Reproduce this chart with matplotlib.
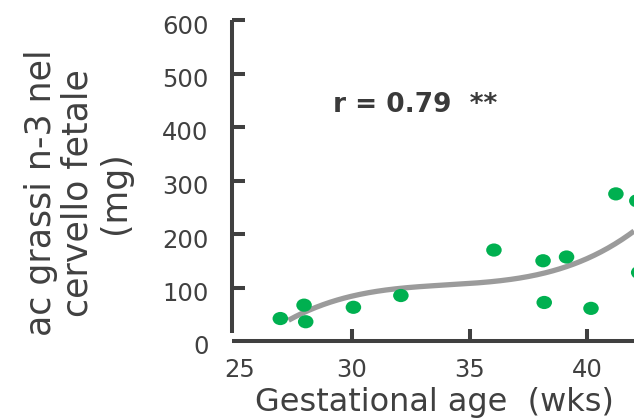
import matplotlib
matplotlib.use("Agg")
import matplotlib.pyplot as plt
import matplotlib.transforms as mtransforms
from matplotlib.path import Path
import numpy as np

# ---- data ----
age_wks = [26.95, 27.96, 28.03, 30.06, 32.08, 36.04, 38.13, 38.18, 39.13, 40.17, 41.23, 42.12, 42.2]
n3_mg = [42, 67, 36, 63, 85, 170, 150, 72, 157, 61, 275, 262, 128]

# points read along the drawn (polynomial) trend line
trend_x = [27.3, 27.9, 28.6, 29.3, 30.0, 30.7, 32.2, 33.6, 35.0, 36.0, 37.1, 38.1, 39.0, 40.0, 40.7, 41.4, 42.0]
trend_y = [39, 51, 64, 77, 86, 92, 97, 102, 106, 111, 119, 129, 138, 152, 168, 186, 207]

x_ticks = [25, 30, 35, 40]
y_ticks = [0, 100, 200, 300, 400, 500, 600]
annotation = "r = 0.79  **"
x_title = "Gestational age  (wks)"
y_title = "ac grassi n-3 nel\ncervello fetale\n(mg)"

# ---- styling ----
W, H, DPI = 634, 420, 100
DARK = "#404040"
GREEN = "#00B050"
GRAY = "#9B9B9B"
plt.rcParams["font.family"] = ["DejaVu Sans"]

fig = plt.figure(figsize=(W / DPI, H / DPI), dpi=DPI)
x0, x1 = 24.9, 42.0
y0, y1 = 0, 620
px_per_x = 23.5
px_per_y = 0.535
ax_w = (x1 - x0) * px_per_x
ax_h = (y1 - y0) * px_per_y
ax_left = W - ax_w
ax_bottom = H - 341
ax = fig.add_axes([ax_left / W, ax_bottom / H, ax_w / W, ax_h / H])
ax.set_xlim(x0, x1)
ax.set_ylim(y0, y1)
ax.patch.set_alpha(0)

# smooth polynomial trend line (cubic, as in the source chart) through the read points
coef = np.polyfit(trend_x, trend_y, 3)
tx = np.linspace(min(trend_x), max(trend_x), 200)
ax.plot(tx, np.polyval(coef, tx), color=GRAY, lw=3.8, solid_capstyle="butt",
        zorder=2, clip_on=False)

# elliptical dots
circ = Path.unit_circle()
ell = Path(circ.vertices * np.array([1.0, 0.85]), circ.codes)
ax.scatter(age_wks, n3_mg, s=125, marker=ell, color=GREEN, edgecolors="none", zorder=3)

# spines
for s in ["top", "right"]:
    ax.spines[s].set_visible(False)
for s in ["left", "bottom"]:
    ax.spines[s].set_color(DARK)
    ax.spines[s].set_linewidth(2.9)
    ax.spines[s].set_capstyle("butt")
ax.spines["left"].set_bounds(15, 600)

ax.set_xticks(x_ticks)
ax.set_yticks(y_ticks)
ax.set_xticklabels([str(v) for v in x_ticks])
ax.set_yticklabels([str(v) for v in y_ticks])
ax.tick_params(axis="both", direction="in", length=9, width=2.9, color=DARK,
               labelcolor=DARK, labelsize=17.5)
ax.tick_params(axis="x", pad=12)
ax.tick_params(axis="y", pad=17)
ax.xaxis.get_major_ticks()[0].tick1line.set_visible(False)
ax.yaxis.get_major_ticks()[0].tick1line.set_visible(False)

for lab in ax.get_yticklabels():
    lab.set_transform(lab.get_transform() + mtransforms.ScaledTranslation(0, -4 / DPI, fig.dpi_scale_trans))
ax.get_xticklabels()[0].set_transform(ax.get_xticklabels()[0].get_transform()
                                      + mtransforms.ScaledTranslation(5 / DPI, 0, fig.dpi_scale_trans))

fig.text(333 / W, 1 - 105 / H, annotation, ha="left", va="center",
         fontsize=19, fontweight="bold", color="#3A3A3A")

fig.text(255 / W, 1 - 403 / H, x_title, ha="left", va="center", fontsize=23, color=DARK)
fig.text(78 / W, 1 - 193 / H, y_title, ha="center", va="center", rotation=90,
         multialignment="center", fontsize=25, color=DARK, linespacing=1.12)

fig.savefig("out.png", dpi=DPI)
